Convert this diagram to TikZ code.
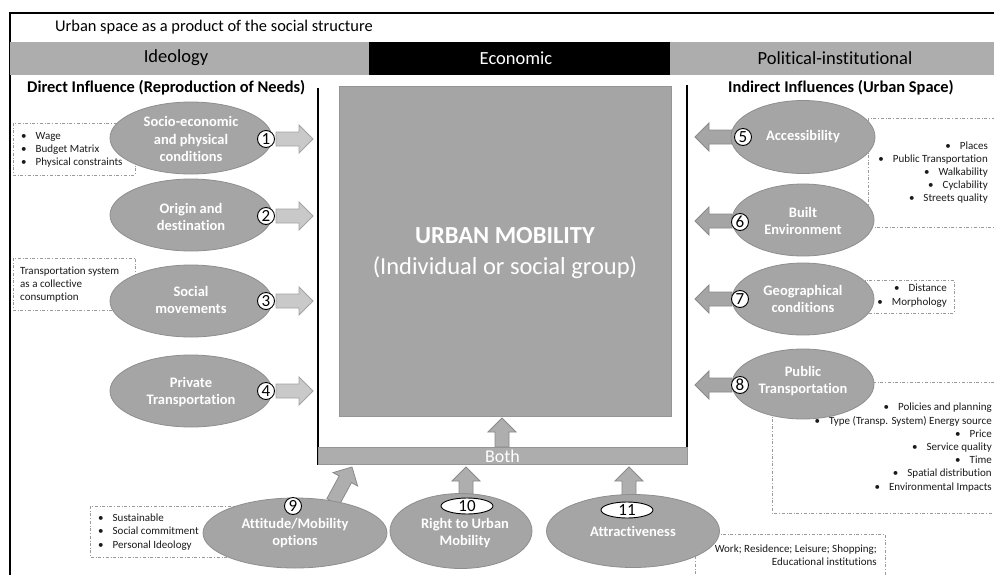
\documentclass[tikz,border=0pt]{standalone}
\usepackage{fontspec}
\setmainfont[Ligatures=NoCommon]{Carlito}
\usetikzlibrary{shapes.geometric,calc}
\definecolor{ellfill}{HTML}{A5A5A5}
\definecolor{elldraw}{HTML}{8E8E8E}
\definecolor{bandfill}{HTML}{ADADAD}
\definecolor{boxfill}{HTML}{A5A5A5}
\definecolor{boxdraw}{HTML}{959595}
\definecolor{larrfill}{HTML}{C9C9C9}
\definecolor{larrdraw}{HTML}{A3A3A3}
\definecolor{rarrfill}{HTML}{A5A5A5}
\definecolor{rarrdraw}{HTML}{8A8A8A}
\definecolor{dashc}{HTML}{9A9A9A}
\definecolor{txtc}{HTML}{1A1A1A}
\newcommand\fatarrow[3]{%
  \coordinate (fat) at (#2);
  \coordinate (fah) at (#3);
  \coordinate (fan) at ($(fah)!14pt!(fat)$);
  \draw[#1] ($(fat)!7pt!90:(fah)$) -- ($(fan)!7pt!-90:(fat)$) -- ($(fan)!14pt!-90:(fat)$) -- (fah)
    -- ($(fan)!14pt!90:(fat)$) -- ($(fan)!7pt!90:(fat)$) -- ($(fat)!7pt!-90:(fah)$) -- cycle;
}
\tikzset{
  ell/.style={ellipse, draw=elldraw, fill=ellfill, line width=0.8pt, inner sep=0pt},
  elltxt/.style={text=white, font=\fontsize{14.5}{17.5}\selectfont\bfseries, align=center, inner sep=0pt},
  numc/.style={circle, draw=black, fill=white, line width=0.9pt, minimum size=17pt, inner sep=0pt, font=\fontsize{17}{17}\selectfont},
  numo/.style={ellipse, draw=black, fill=white, line width=0.9pt, minimum width=52pt, minimum height=16pt, inner sep=0pt, font=\fontsize{17}{17}\selectfont},
  dbox/.style={draw=dashc, dash dot, line width=0.7pt},
  ltxt/.style={inner sep=0pt, text=txtc, font=\fontsize{11}{13}\selectfont, text height=7.5pt, text depth=2pt},
  hdr/.style={font=\fontsize{18.5}{20}\selectfont, inner sep=0pt},
  sect/.style={font=\fontsize{16.4}{18}\selectfont\bfseries, inner sep=0pt},
  larr/.style={fill=larrfill, draw=larrdraw, line width=0.8pt},
  rarr/.style={fill=rarrfill, draw=rarrdraw, line width=0.8pt},
  barr/.style={fill=ellfill!90!white, draw=rarrdraw, line width=0.8pt},
}
\begin{document}
\begin{tikzpicture}[x=1pt,y=-1pt]
\useasboundingbox (0,0) rectangle (994,574);
\clip (0,0) rectangle (994,574);
\fill[white] (0,0) rectangle (994,574);

% frame and title
\draw[line width=2pt] (10,576) -- (10,13) -- (996,13);
\node[anchor=west, font=\fontsize{16.4}{18}\selectfont, inner sep=0pt] (title) at (55,27) {Urban space as a product of the social structure};

% header bands
\fill[bandfill] (10,42) rectangle (369,75);
\fill[black] (369,42) rectangle (670,75);
\fill[bandfill] (670,42) rectangle (996,75);
\node[hdr] (hideo) at (176,58) {Ideology};
\node[hdr, text=white] (hecon) at (516,58) {Economic};
\node[hdr] (hpol) at (835,58) {Political-institutional};

% section titles
\node[sect, anchor=west] (sdir) at (27,88) {Direct Influence (Reproduction of Needs)};
\node[sect, anchor=west] (sind) at (728,88) {Indirect Influences (Urban Space)};

% central frame
\draw[line width=1.3pt] (318,88) -- (318,465);
\draw[line width=1.3pt] (687,85) -- (687,465);
\node[rectangle, fill=boxfill, draw=boxdraw, line width=0.8pt, minimum width=332pt, minimum height=330pt, inner sep=0pt] (um) at (505,251) {};
\node[text=white, font=\fontsize{24.5}{31}\selectfont, align=center, inner sep=0pt] (umt) at (505,253) {\textbf{URBAN MOBILITY}\\(Individual or social group)};
\node[rectangle, fill=bandfill, draw=boxdraw, line width=0.8pt, minimum width=369pt, minimum height=17pt, inner sep=0pt] (both) at (502.5,455.5) {};
\node[text=white, font=\fontsize{18}{18}\selectfont, inner sep=0pt] (botht) at (502.5,456) {Both};

% dashed boxes
\draw[dbox] (13,123) rectangle (135,175);
\draw[dbox] (13,258) rectangle (135,310);
\draw[dbox] (868,118) rectangle (1000,227);
\draw[dbox] (865,280) rectangle (954,313);
\draw[dbox] (772,382) rectangle (1000,513);
\draw[dbox] (90,506) rectangle (250,557);
\draw[dbox] (695,534) rectangle (885,600);

% list texts
\node[ltxt, anchor=west] (la1) at (21,137) {•\hspace{9pt}Wage};
\node[ltxt, anchor=west] (la2) at (21,150) {•\hspace{9pt}Budget Matrix};
\node[ltxt, anchor=west] (la3) at (21,163) {•\hspace{9pt}Physical constraints};
\node[ltxt, anchor=west] (lb1) at (20,272) {Transportation system};
\node[ltxt, anchor=west] (lb2) at (20,285) {as a collective};
\node[ltxt, anchor=west] (lb3) at (20,298) {consumption};
\foreach \t [count=\i] in {Places, Public Transportation, Walkability, Cyclability, Streets quality}
  \node[ltxt, anchor=east] (l5-\i) at (988,134+13*\i) {•\hspace{9pt}\t};
\node[ltxt, anchor=east] (l7-1) at (947,289) {•\hspace{9pt}Distance};
\node[ltxt, anchor=east] (l7-2) at (947,303) {•\hspace{9pt}Morphology};
\foreach \t [count=\i] in {Policies and planning, Type (Transp. System) Energy source, Price, Service quality, Time, Spatial distribution, Environmental Impacts}
  \node[ltxt, anchor=east] (l8-\i) at (992,395+13.2*\i) {•\hspace{9pt}\t};
\node[ltxt, anchor=west] (l9-1) at (98,519) {•\hspace{9pt}Sustainable};
\node[ltxt, anchor=west] (l9-2) at (98,532) {•\hspace{9pt}Social commitment};
\node[ltxt, anchor=west] (l9-3) at (98,546) {•\hspace{9pt}Personal Ideology};
\node[ltxt, anchor=east] (l11-1) at (877,550) {Work; Residence; Leisure; Shopping;};
\node[ltxt, anchor=east] (l11-2) at (877,563) {Educational institutions};

% arrows
\coordinate (a1s) at (276,139); \coordinate (a1e) at (313,139);
\coordinate (a2s) at (276,216); \coordinate (a2e) at (313,216);
\coordinate (a3s) at (276,301); \coordinate (a3e) at (313,301);
\coordinate (a4s) at (276,391); \coordinate (a4e) at (313,391);
\coordinate (a5s) at (732,137); \coordinate (a5e) at (695,137);
\coordinate (a6s) at (732,221); \coordinate (a6e) at (695,221);
\coordinate (a7s) at (732,299); \coordinate (a7e) at (695,299);
\coordinate (a8s) at (732,385); \coordinate (a8e) at (695,385);
\coordinate (a9s) at (333,502); \coordinate (a9e) at (352,467);
\coordinate (a10s) at (466,496); \coordinate (a10e) at (466,467);
\coordinate (a11s) at (629,496); \coordinate (a11e) at (629,467);
\coordinate (abs) at (502,447); \coordinate (abe) at (502,418);
\fatarrow{larr}{a1s}{a1e}
\fatarrow{larr}{a2s}{a2e}
\fatarrow{larr}{a3s}{a3e}
\fatarrow{larr}{a4s}{a4e}
\fatarrow{rarr}{a5s}{a5e}
\fatarrow{rarr}{a6s}{a6e}
\fatarrow{rarr}{a7s}{a7e}
\fatarrow{rarr}{a8s}{a8e}
\fatarrow{barr}{a9s}{a9e}
\fatarrow{barr}{a10s}{a10e}
\fatarrow{barr}{a11s}{a11e}
\fatarrow{barr}{abs}{abe}

% ellipses
\node[ell, minimum width=162pt, minimum height=72pt] (e1) at (191,138) {};
\node[ell, minimum width=162pt, minimum height=72pt] (e2) at (191,215) {};
\node[ell, minimum width=162pt, minimum height=72pt] (e3) at (191,301) {};
\node[ell, minimum width=162pt, minimum height=72pt] (e4) at (191,391) {};
\node[ell, minimum width=144pt, minimum height=73pt] (e5) at (803,137) {};
\node[ell, minimum width=142pt, minimum height=72pt] (e6) at (803,220) {};
\node[ell, minimum width=142pt, minimum height=72pt] (e7) at (803,299) {};
\node[ell, minimum width=142pt, minimum height=70pt] (e8) at (803,384) {};
\node[ell, minimum width=184pt, minimum height=70pt] (e9) at (295,533) {};
\node[ell, minimum width=142pt, minimum height=75pt] (e10) at (461,531) {};
\node[ell, minimum width=173pt, minimum height=73pt] (e11) at (633,531) {};

\node[elltxt] (t1) at (191,139) {Socio-economic\\and physical\\conditions};
\node[elltxt] (t2) at (191,217) {Origin and\\destination};
\node[elltxt] (t3) at (191,300) {Social\\movements};
\node[elltxt] (t4) at (191,392) {Private\\Transportation};
\node[elltxt] (t5) at (803,137) {Accessibility};
\node[elltxt] (t6) at (803,221) {Built\\Environment};
\node[elltxt] (t7) at (803,299) {Geographical\\conditions};
\node[elltxt] (t8) at (803,381) {Public\\Transportation};
\node[elltxt] (t9) at (295,533) {Attitude/Mobility\\options};
\node[elltxt] (t10) at (465,533) {Right to Urban\\Mobility};
\node[elltxt] (t11) at (633,531) {Attractiveness};

% numbers
\node[numc] (n1) at (266,139) {1};
\node[numc] (n2) at (266,216) {2};
\node[numc] (n3) at (266,301) {3};
\node[numc] (n4) at (266,391) {4};
\node[numc] (n5) at (743,137) {5};
\node[numc] (n6) at (740,222) {6};
\node[numc] (n7) at (740,299) {7};
\node[numc] (n8) at (740,385) {8};
\node[numc] (n9) at (293,506) {9};
\node[numo] (n10) at (467,506) {10};
\node[numo] (n11) at (627,510) {11};
\end{tikzpicture}
\end{document}
